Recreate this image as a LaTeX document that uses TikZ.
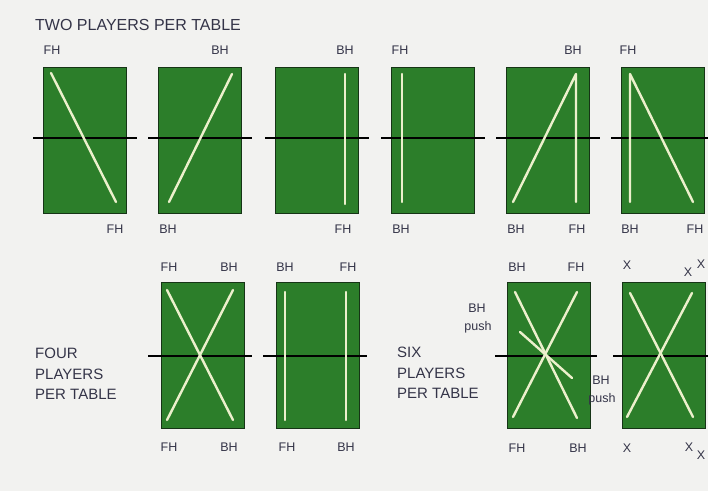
\documentclass[tikz,border=0pt]{standalone}
\usepackage{fontspec}
\setmainfont{Liberation Sans}
\definecolor{paper}{RGB}{242,242,240}
\definecolor{felt}{RGB}{44,126,42}
\definecolor{feltedge}{RGB}{22,52,22}
\definecolor{chalk}{RGB}{236,240,204}
\definecolor{ink}{RGB}{52,52,72}
\tikzset{
  tablebox/.style={draw=feltedge, line width=1pt, fill=felt, anchor=north west,
    minimum width=83pt, minimum height=146pt, inner sep=0pt},
  net/.style={line width=2.6pt, black},
  shot/.style={line width=2.4pt, chalk, line cap=round, line join=round},
  lbl/.style={text=ink, inner sep=0pt, font=\fontsize{12.5}{14}\selectfont},
  heading/.style={text=ink, inner sep=0pt, anchor=west, align=left,
    font=\fontsize{15}{20.5}\selectfont}
}
\begin{document}
\begin{tikzpicture}[x=1pt,y=-1pt]
  \fill[paper] (0,0) rectangle (708,491);
  \useasboundingbox (0,0) rectangle (708,491);
  \node[heading, font=\fontsize{16}{19}\selectfont] (two) at (35,25) {TWO PLAYERS PER TABLE};
  % two players: cross court FH
  \begin{scope}[shift={(43,67)}]
    \node[tablebox] (t1) at (0,0) {};
    \draw[net] (-10,71) -- (94,71);
    \draw[shot] (8,6) -- (73,135);
    \node[lbl] (t1a) at (9,-17) {FH};
    \node[lbl] (t1b) at (72,162) {FH};
  \end{scope}
  % cross court BH
  \begin{scope}[shift={(158,67)}]
    \node[tablebox] (t2) at (0,0) {};
    \draw[net] (-10,71) -- (94,71);
    \draw[shot] (11,135) -- (74,7);
    \node[lbl] (t2a) at (62,-17) {BH};
    \node[lbl] (t2b) at (10,162) {BH};
  \end{scope}
  % down the line
  \begin{scope}[shift={(275,67)}]
    \node[tablebox] (t3) at (0,0) {};
    \draw[net] (-10,71) -- (94,71);
    \draw[shot] (70,7) -- (70,137);
    \node[lbl] (t3a) at (70,-17) {BH};
    \node[lbl] (t3b) at (68,162) {FH};
  \end{scope}
  \begin{scope}[shift={(391,67)}]
    \node[tablebox] (t4) at (0,0) {};
    \draw[net] (-10,71) -- (94,71);
    \draw[shot] (11,7) -- (11,135);
    \node[lbl] (t4a) at (9,-17) {FH};
    \node[lbl] (t4b) at (10,162) {BH};
  \end{scope}
  % one player moves
  \begin{scope}[shift={(506,67)}]
    \node[tablebox] (t5) at (0,0) {};
    \draw[net] (-10,71) -- (94,71);
    \draw[shot] (7,135) -- (70,7) -- (70,135);
    \node[lbl] (t5a) at (67,-17) {BH};
    \node[lbl] (t5b) at (10,162) {BH};
    \node[lbl] (t5c) at (71,162) {FH};
  \end{scope}
  \begin{scope}[shift={(621,67)}]
    \node[tablebox] (t6) at (0,0) {};
    \draw[net] (-10,71) -- (94,71);
    \draw[shot] (9,135) -- (9,7) -- (72,135);
    \node[lbl] (t6a) at (7,-17) {FH};
    \node[lbl] (t6b) at (9,162) {BH};
    \node[lbl] (t6c) at (74,162) {FH};
  \end{scope}
  % four players per table
  \node[heading] (four) at (35,374) {FOUR\\PLAYERS\\PER TABLE};
  \begin{scope}[shift={(161,282)}]
    \node[tablebox] (t7) at (0,0) {};
    \draw[net] (-13,74) -- (91,74);
    \draw[shot] (6,8) -- (72,138);
    \draw[shot] (72,8) -- (6,138);
    \node[lbl] (t7a) at (8,-15) {FH};
    \node[lbl] (t7b) at (68,-15) {BH};
    \node[lbl] (t7c) at (8,165) {FH};
    \node[lbl] (t7d) at (68,165) {BH};
  \end{scope}
  \begin{scope}[shift={(276,282)}]
    \node[tablebox] (t8) at (0,0) {};
    \draw[net] (-13,74) -- (91,74);
    \draw[shot] (9,10) -- (9,138);
    \draw[shot] (70,10) -- (70,138);
    \node[lbl] (t8a) at (9,-15) {BH};
    \node[lbl] (t8b) at (72,-15) {FH};
    \node[lbl] (t8c) at (11,165) {FH};
    \node[lbl] (t8d) at (70,165) {BH};
  \end{scope}
  % six players per table
  \node[heading] (six) at (397,373) {SIX\\PLAYERS\\PER TABLE};
  \begin{scope}[shift={(507,282)}]
    \node[tablebox] (t9) at (0,0) {};
    \draw[net] (-12,74) -- (90,74);
    \draw[shot] (8,10) -- (70,136);
    \draw[shot] (70,10) -- (6,135);
    \draw[shot] (13,50) -- (65,96);
    \node[lbl] (t9a) at (10,-15) {BH};
    \node[lbl] (t9b) at (69,-15) {FH};
    \node[lbl] (t9c) at (10,166) {FH};
    \node[lbl] (t9d) at (71,166) {BH};
    \node[lbl] (push1) at (-30,26) {BH};
    \node[lbl] (push1b) at (-29,45) {push};
    \node[lbl] (push2) at (94,98) {BH};
    \node[lbl] (push2b) at (95,117) {push};
  \end{scope}
  \begin{scope}[shift={(622,282)}]
    \node[tablebox] (t10) at (0,0) {};
    \draw[net] (-9,74) -- (95,74);
    \draw[shot] (8,11) -- (71,135);
    \draw[shot] (70,11) -- (5,135);
    \node[lbl] (t10a) at (5,-17) {X};
    \node[lbl] (t10b) at (66,-10) {X};
    \node[lbl] (t10c) at (79,-18) {X};
    \node[lbl] (t10d) at (5,166) {X};
    \node[lbl] (t10e) at (67,165) {X};
    \node[lbl] (t10f) at (79,173) {X};
  \end{scope}
\end{tikzpicture}
\end{document}
